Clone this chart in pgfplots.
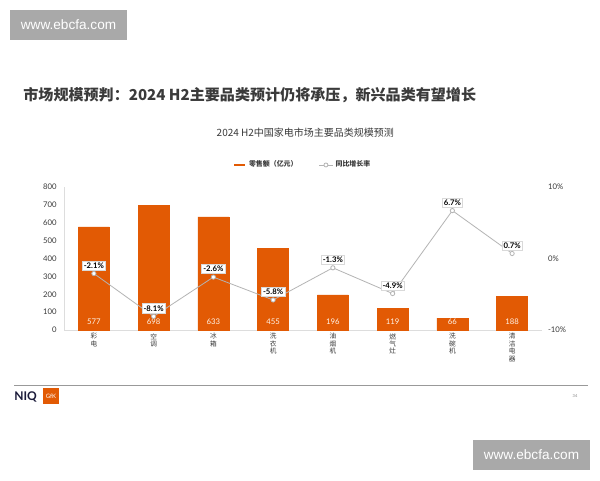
\documentclass[border=0pt]{standalone}
\usepackage{fontspec}
\setmainfont{Noto Sans CJK SC}
\newfontfamily\lato{Lato}
\newfontfamily\wm{Liberation Sans}
\usepackage{pgfplots}
\pgfplotsset{compat=1.18}
\usepackage{pgfplotstable}
\definecolor{barorange}{HTML}{E25A04}
\definecolor{linegray}{HTML}{B4B4B4}
\definecolor{txt}{HTML}{3A3A3A}
\definecolor{axisgray}{HTML}{DDDDDD}
\definecolor{wmgray}{HTML}{A9A9A9}
\definecolor{navy}{HTML}{1B1B3A}

\pgfplotstableread{
x v z zero
0 577 -2.1 0
1 698 -8.1 0
2 633 -2.6 0
3 455 -5.8 0
4 196 -1.3 0
5 119 -4.9 0
6 66 6.7 0
7 188 0.7 0
}\data

\begin{document}
\begin{tikzpicture}
\fill[white] (0,0) rectangle (450pt,360pt);
% watermarks
\fill[wmgray] (7.5pt,330pt) rectangle (95.25pt,352.5pt);
\node[text=white,font=\wm\fontsize{10.2}{11}\selectfont] at (51.4pt,341.25pt) {www.ebcfa.com};
\fill[wmgray] (354.75pt,7.5pt) rectangle (442.5pt,30pt);
\node[text=white,font=\wm\fontsize{10.2}{11}\selectfont] at (398.6pt,18.75pt) {www.ebcfa.com};
% titles
\node[anchor=west,text=txt,font=\bfseries\fontsize{11.3}{13}\selectfont] at (14pt,288.75pt) {市场规模预判：2024 H2主要品类预计仍将承压，新兴品类有望增长};
\node[text=txt,font=\fontsize{7.5}{8.5}\selectfont] at (229pt,260.25pt) {2024 H2中国家电市场主要品类规模预测};
% footer
\draw[gray!80,line width=0.7pt] (10.5pt,71.25pt) -- (441pt,71.25pt);
\node[anchor=west,inner sep=0pt,text=navy,font=\lato\bfseries\fontsize{9}{10}\selectfont] at (10.5pt,62.5pt) {NIQ};
\fill[barorange] (32.25pt,57pt) rectangle (44.25pt,69pt);
\node[text=white,inner sep=0pt,font=\lato\fontsize{4.5}{5}\selectfont] at (38.25pt,63pt) {GfK};
\node[text=gray,inner sep=0pt,font=\lato\fontsize{3}{3.5}\selectfont] at (431.25pt,63pt) {34};

\begin{axis}[
  at={(48pt,112.5pt)}, anchor=south west,
  scale only axis, width=358.5pt, height=107.25pt,
  xmin=-0.5, xmax=7.5, ymin=0, ymax=800,
  ytick={0,100,...,800},
  xtick={0,...,7},
  xticklabels={{彩\\电},{空\\调},{冰\\箱},{洗\\衣\\机},{油\\烟\\机},{燃\\气\\灶},{洗\\碗\\机},{清\\洁\\电\\器}},
  xticklabel style={align=center,font=\fontsize{5}{5.6}\selectfont,text=txt,anchor=north,yshift=1pt},
  yticklabel style={font=\lato\fontsize{5.8}{6.5}\selectfont,text=txt,xshift=-2pt},
  /pgf/number format/assume math mode=true,
  axis x line*=bottom, axis y line*=left,
  axis line style={draw=axisgray,-},
  tick style={draw=none},
]
\addplot[ybar, bar width=23.25pt, fill=barorange, draw=barorange] table[x=x,y=v]{\data};
\addplot[draw=none, mark=none, nodes near coords, point meta=explicit symbolic,
  nodes near coords style={anchor=south, inner sep=0pt, yshift=3.6pt, text=white!92!orange, font=\lato\fontsize{5.8}{6.5}\selectfont}]
  table[x=x,y=zero,meta=v]{\data};
\end{axis}

\begin{axis}[
  at={(48pt,112.5pt)}, anchor=south west,
  scale only axis, width=358.5pt, height=107.25pt,
  xmin=-0.5, xmax=7.5, ymin=-10, ymax=10,
  axis x line=none, axis y line*=right,
  axis line style={draw=none},
  tick style={draw=none},
  ytick={-10,0,10}, yticklabels={-10\%,0\%,10\%},
  yticklabel style={font=\lato\fontsize{5.8}{6.5}\selectfont,text=txt,xshift=1pt},
  legend style={at={(axis description cs:0.5,1.154)}, anchor=center, draw=none, fill=none,
    legend columns=2, font=\bfseries\fontsize{5.2}{6}\selectfont, text=txt,
    /tikz/every even column/.append style={column sep=14pt}},
]
\addlegendimage{legend image code/.code={\draw[barorange,line width=2pt] (0pt,0pt) -- (8pt,0pt);}}
\addlegendentry{零售额（亿元）}
\addplot[linegray, line width=0.6pt, mark=*, mark size=1.6pt,
  mark options={fill=white, draw=linegray},
  legend image code/.code={\draw[linegray,line width=0.5pt] (0pt,0pt) -- (10pt,0pt); \draw[linegray,fill=white] (5pt,0pt) circle (1.5pt);},
  nodes near coords={\pgfmathprintnumber[fixed,fixed zerofill,precision=1]{\pgfplotspointmeta}\%},
  point meta=y,
  nodes near coords style={anchor=south, fill=white, draw=gray!30, line width=0.3pt, inner sep=1.3pt, yshift=2.5pt,
    text=black, font=\lato\bfseries\fontsize{5.8}{6.4}\selectfont, /pgf/number format/assume math mode=true}]
  table[x=x,y=z]{\data};
\addlegendentry{同比增长率}
\end{axis}
\end{tikzpicture}
\end{document}
